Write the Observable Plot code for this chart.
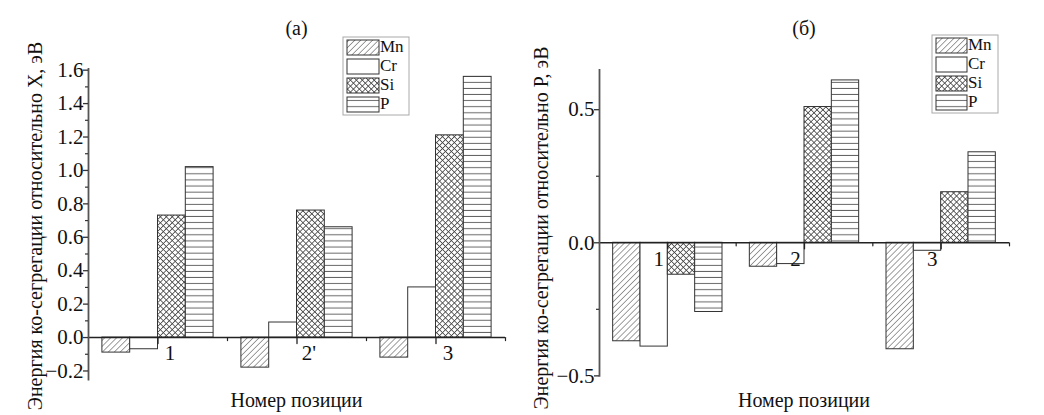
<!DOCTYPE html>
<html><head><meta charset="utf-8">
<script src="https://cdn.jsdelivr.net/npm/d3@7"></script>
<script src="https://cdn.jsdelivr.net/npm/@observablehq/plot@0.6"></script>
<style>
body{margin:0;background:#fff;}
#wrap{display:flex;width:1044px;height:415px;}
#wrap svg, #wrap svg text, #wrap svg g{font-family:"Liberation Serif","DejaVu Serif",serif !important;font-variant:normal !important;}
</style></head><body>
<svg width="0" height="0" style="position:absolute">
<defs>
  <pattern id="patMn" width="4.2" height="4.2" patternUnits="userSpaceOnUse" patternTransform="rotate(45)">
    <rect width="4.2" height="4.2" fill="#fff"/>
    <line x1="2.1" y1="0" x2="2.1" y2="4.2" stroke="#888" stroke-width="0.8"/>
  </pattern>
  <pattern id="patSi" width="4.2" height="4.2" patternUnits="userSpaceOnUse" patternTransform="rotate(45)">
    <rect width="4.2" height="4.2" fill="#fff"/>
    <line x1="2.1" y1="0" x2="2.1" y2="4.2" stroke="#444" stroke-width="0.8"/>
    <line x1="0" y1="2.1" x2="4.2" y2="2.1" stroke="#444" stroke-width="0.8"/>
  </pattern>
  <pattern id="patP" width="6" height="6.1" patternUnits="userSpaceOnUse">
    <rect width="6" height="6.1" fill="#fff"/>
    <line x1="0" y1="3" x2="6" y2="3" stroke="#555" stroke-width="0.9"/>
  </pattern>
</defs>
</svg>
<div id="wrap"></div>
<script>
// ---- data ----
const elements = ["Mn", "Cr", "Si", "P"];
const positionsA = ["1", "2'", "3"];
const positionsB = ["1", "2", "3"];
const MnA = [-0.09, -0.18, -0.12];
const CrA = [-0.07, 0.09, 0.30];
const SiA = [0.73, 0.76, 1.21];
const PA  = [1.02, 0.66, 1.56];
const MnB = [-0.37, -0.09, -0.40];
const CrB = [-0.39, -0.08, -0.03];
const SiB = [-0.12, 0.51, 0.19];
const PB  = [-0.26, 0.61, 0.34];
const yTicksA = [-0.2, 0, 0.2, 0.4, 0.6, 0.8, 1.0, 1.2, 1.4, 1.6];
const yMinorA = [-0.1, 0.1, 0.3, 0.5, 0.7, 0.9, 1.1, 1.3, 1.5];
const yTicksB = [-0.5, 0, 0.5];
const yMinorB = [-0.25, 0.25];
const yTitleA = "Энергия ко-сегрегации относительно X, эВ";
const yTitleB = "Энергия ко-сегрегации относительно P, эВ";
const xTitle = "Номер позиции";
const panelA = "(а)";
const panelB = "(б)";

const fills = ["url(#patMn)", "#fff", "url(#patSi)", "url(#patP)"];
const FONT = "'Liberation Serif', 'DejaVu Serif', serif";

function rows(series) {
  const out = [];
  series.forEach((vals, k) => vals.forEach((v, i) => out.push({pos: i + 1, k, el: elements[k], value: v})));
  return out;
}

const tickShape = {draw(ctx, l) { ctx.moveTo(0, 0); ctx.lineTo(0, -l); }};

function panel(opts) {
  const data = rows(opts.series);
  const cats = opts.positions.map((p, i) => ({p, pos: i + 1}));
  const svg = Plot.plot({
    width: opts.width, height: 415,
    marginLeft: opts.ml, marginRight: opts.mr, marginTop: opts.mt, marginBottom: opts.mb,
    style: {fontSize: "20px", fontFamily: FONT, color: "#111", background: "#fff"},
    x: {domain: [0.5, 3.5], axis: null},
    y: {domain: opts.ydomain},
    color: {type: "ordinal", domain: elements, range: fills},
    marks: [
      Plot.rect(data, {x1: d => d.pos - 0.4 + d.k * 0.2, x2: d => d.pos - 0.2 + d.k * 0.2,
        y1: 0, y2: "value", fill: "el", stroke: "#333", strokeWidth: 1}),
      Plot.ruleY([0], {stroke: "#222", strokeWidth: 1.5}),
      Plot.ruleX([0.5], {stroke: "#555", strokeWidth: 1.8}),
      Plot.axisY({ticks: opts.yticks, tickSize: 5, tickPadding: 0, tickFormat: opts.fmt, label: null,
        stroke: "#333", strokeWidth: 1.3, fontSize: 21, fontFamily: FONT, fill: "#111"}),
      Plot.axisY({ticks: opts.yminor, tickSize: 3, tickFormat: () => "", label: null, stroke: "#333", strokeWidth: 1.2}),
      Plot.vector(cats, {x: "pos", y: () => 0, length: 6, rotate: 180, anchor: "start", shape: tickShape, stroke: "#222", strokeWidth: 1.3}),
      Plot.vector([1.5, 2.5, 3.5], {x: d => d, y: () => 0, length: 3, rotate: 180, anchor: "start", shape: tickShape, stroke: "#222", strokeWidth: 1.2}),
      Plot.text(cats, {x: "pos", y: () => 0, text: "p", dx: opts.ldx, dy: 16, fontSize: 21, fontFamily: FONT, fill: "#111"})
    ]
  });
  const s = d3.select(svg);
  const cx = opts.ml + (opts.width - opts.ml - opts.mr) / 2;
  const txt = (sel, fs = 20) => sel.attr("font-size", fs).attr("font-family", FONT).attr("fill", "#111");
  s.append("text").attr("x", cx).attr("y", 30).attr("text-anchor", "middle").attr("dominant-baseline", "middle")
    .call(txt).text(opts.title);
  s.append("text").attr("x", cx).attr("y", 402).attr("text-anchor", "middle").attr("dominant-baseline", "middle")
    .call(txt).text(xTitle);
  s.append("text").attr("transform", `translate(${opts.ytx},${opts.yty}) rotate(-90)`).attr("text-anchor", "middle")
    .attr("dominant-baseline", "middle").call(txt).text(opts.ytitle);
  // legend
  const L = opts.legend;
  const g = s.append("g");
  g.append("rect").attr("x", L.x).attr("y", L.y).attr("width", L.w).attr("height", L.h)
    .attr("fill", "#fff").attr("stroke", "#aaa").attr("stroke-width", 1);
  elements.forEach((el, k) => {
    const yy = L.y + 3 + k * L.step;
    g.append("rect").attr("x", L.x + 4).attr("y", yy).attr("width", L.sw).attr("height", 15)
      .attr("fill", fills[k]).attr("stroke", "#333").attr("stroke-width", 1);
    g.append("text").attr("x", L.x + 5 + L.sw).attr("y", yy + 8).attr("dominant-baseline", "middle")
      .attr("text-anchor", "start").call(txt, 17).text(el);
  });
  return svg;
}

const wrap = document.getElementById("wrap");
wrap.appendChild(panel({
  width: 520, ml: 88, mr: 15, mt: 68, mb: 34.5,
  ydomain: [-0.26, 1.61], series: [MnA, CrA, SiA, PA], positions: positionsA,
  yticks: yTicksA, yminor: yMinorA, fmt: d3.format(".1f"), ldx: 12,
  title: panelA, ytitle: yTitleA, ytx: 37, yty: 226,
  legend: {x: 343, y: 37, w: 66, h: 78, sw: 32, step: 19}
}));
wrap.appendChild(panel({
  width: 524, ml: 79, mr: 35, mt: 69, mb: 38.3,
  ydomain: [-0.505, 0.651], series: [MnB, CrB, SiB, PB], positions: positionsB,
  yticks: yTicksB, yminor: yMinorB, fmt: d3.format(".1f"), ldx: -9,
  title: panelB, ytitle: yTitleB, ytx: 23, yty: 228,
  legend: {x: 412, y: 35, w: 66, h: 78, sw: 31, step: 19}
}));
</script>
</body></html>
